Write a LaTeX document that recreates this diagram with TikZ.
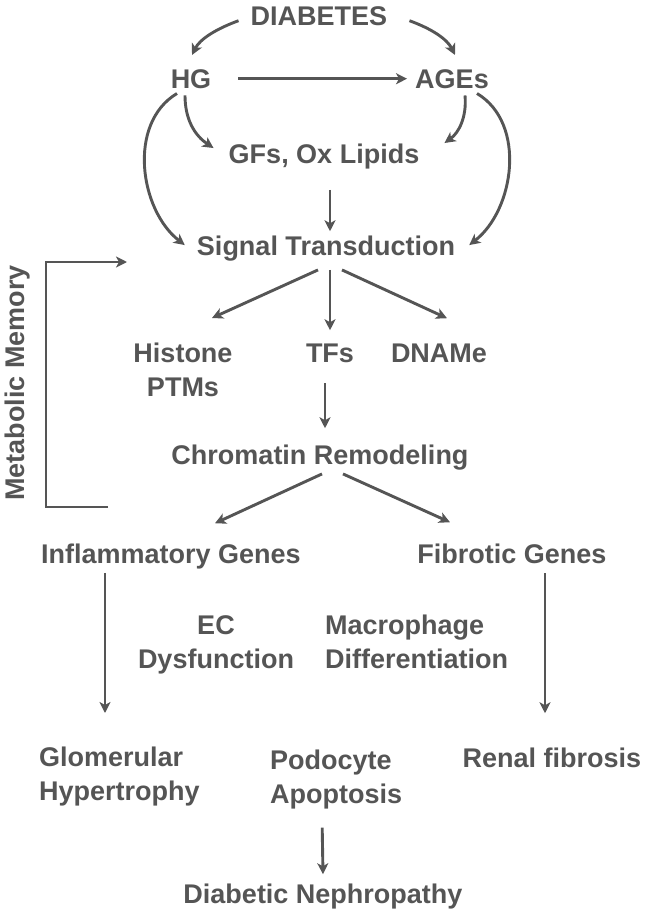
\documentclass[tikz,border=0pt]{standalone}
\usepackage{fontspec}
\setmainfont{Liberation Sans}
\usetikzlibrary{arrows.meta, calc}
\definecolor{inkgray}{RGB}{85,85,85}

\begin{document}
\begin{tikzpicture}[x=1pt,y=1pt,yscale=-1,xscale=1,
  lbl/.style={inner sep=0pt, text=inkgray, font=\fontsize{27}{34}\selectfont\bfseries},
  arr/.style={draw=inkgray, line width=2.9pt, -{Stealth[length=11pt,width=11pt,inset=3pt]}}]
%set diagram size to the reference
\useasboundingbox (0,0) rectangle (649,921);

% Text Node
\node (dia) [lbl, anchor=base] at (319,25) {DIABETES};
% Text Node
\node (hg) [lbl, anchor=base] at (191,88) {HG};
% Text Node
\node (ages) [lbl, anchor=base] at (452,88) {AGEs};
% Text Node
\node (gfs) [lbl, anchor=base] at (324,163) {GFs, Ox Lipids};
% Text Node
\node (sig) [lbl, anchor=base] at (326,255) {Signal Transduction};
% Text Node
\node (hist) [lbl, anchor=north, align=center] at (183,343) {Histone\\PTMs};
% Text Node
\node (tfs) [lbl, anchor=base] at (330,362) {TFs};
% Text Node
\node (dnam) [lbl, anchor=base] at (439,362) {DNAMe};
% Text Node
\node (chrom) [lbl, anchor=base] at (320,464) {Chromatin Remodeling};
% Text Node
\node (infl) [lbl, anchor=base] at (171,563) {Inflammatory Genes};
% Text Node
\node (fib) [lbl, anchor=base] at (512,563) {Fibrotic Genes};
% Text Node
\node (ec) [lbl, anchor=north, align=center] at (216,615) {EC\\Dysfunction};
% Text Node
\node (mac) [lbl, anchor=north west, align=left] at (325,615) {Macrophage\\Differentiation};
% Text Node
\node (glom) [lbl, anchor=north west, align=left] at (39,747) {Glomerular\\Hypertrophy};
% Text Node
\node (podo) [lbl, anchor=north west, align=left] at (270,750) {Podocyte\\Apoptosis};
% Text Node
\node (renal) [lbl, anchor=base] at (552,767) {Renal fibrosis};
% Text Node
\node (dn) [lbl, anchor=base] at (323,903) {Diabetic Nephropathy};
% Text Node
\node (mem) [lbl, anchor=base, rotate=90] at (24,383) {Metabolic Memory};

%Curve Lines
\draw [arr] ($(dia.west)+(-12,5)$) .. controls +(-22,8) and +(8,-16) .. ($(hg.north)+(1,-14)$);
\draw [arr] ($(dia.east)+(22,5)$) .. controls +(22,8) and +(-8,-16) .. ($(ages.north)+(3,-14)$);
\draw [arr] ($(hg.south)+(-6,7)$) .. controls +(0,25) and +(-18,-12) .. ($(gfs.west)+(-15,-8)$);
\draw [arr] ($(ages.south)+(13,7)$) .. controls +(2,22) and +(14,-10) .. ($(gfs.east)+(25,-13)$);
\draw [arr] ($(hg.south)+(-14,5)$) .. controls +(-50,30) and +(-45,-35) .. ($(sig.west)+(-12,-3)$);
\draw [arr] ($(ages.south)+(25,5)$) .. controls +(50,30) and +(45,-35) .. ($(sig.east)+(14,-3)$);

%Straight Lines
\draw [arr] ($(hg.east)+(27,0)$) -- ($(ages.west)+(-8,0)$);
\draw [arr] ($(gfs.south)+(6,21)$) -- ($(sig.north)+(4,-4)$);
\draw [arr] ($(sig.south)+(-8,9)$) -- ($(hist.north)+(29,-25)$);
\draw [arr] ($(sig.south)+(4,9)$) -- ($(tfs.north)+(0,-13)$);
\draw [arr] ($(sig.south)+(16,9)$) -- ($(dnam.north)+(8,-25)$);
\draw [arr] ($(tfs.south)+(-5,21)$) -- ($(chrom.north)+(5,-16)$);
\draw [arr] ($(chrom.south)+(2,4)$) -- ($(infl.north)+(44,-20)$);
\draw [arr] ($(chrom.south)+(23,4)$) -- ($(fib.north)+(-62,-21)$);
\draw [arr] ($(infl.south)+(-66,4)$) -- ($(glom.north west)+(66,-34)$);
\draw [arr] ($(fib.south)+(33,10)$) -- ($(renal.north)+(-7,-34)$);
\draw [arr] ($(podo.south)+(-14,18)$) -- ($(dn.north)+(0,-9)$);

%Metabolic memory bracket
\coordinate (memhi) at (127,262);
\coordinate (memlo) at (108,507);
\draw [arr] (memlo) -- ++(-62,0) |- (memhi);

\end{tikzpicture}
\end{document}
